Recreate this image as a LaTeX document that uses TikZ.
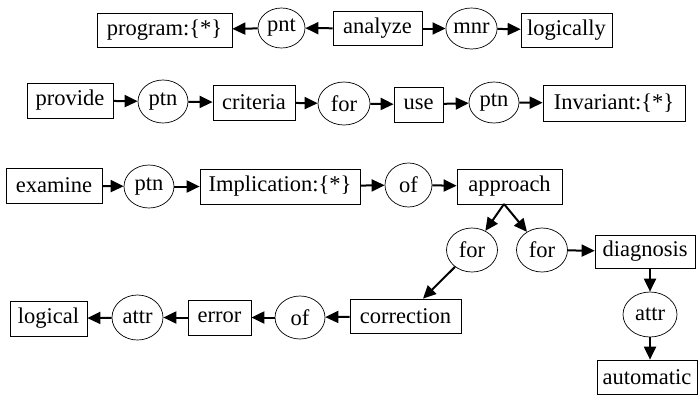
\documentclass[tikz,border=0pt]{standalone}
\usepackage{fontspec}
\setmainfont{Liberation Serif}
\usetikzlibrary{shapes.geometric,arrows.meta}
\begin{document}
\begin{tikzpicture}[x=1pt,y=-1pt,
  lbl/.style={inner sep=0pt,line width=0.7pt,font=\fontsize{22.5}{22.5}\selectfont},
  box/.style={lbl,draw,rectangle},
  ell/.style={lbl,draw,ellipse},
  arr/.style={line width=2pt,-{Triangle[length=13pt,width=12pt]}}]
\useasboundingbox (0,0) rectangle (700,394);
% row 1
\node[box,minimum width=135pt,minimum height=34pt] (prog) at (164.5,30) {program:\{*\}};
\node[ell,minimum width=47pt,minimum height=40pt] (pnt) at (281.5,28) {pnt};
\node[box,minimum width=89pt,minimum height=34pt] (analyze) at (377.5,28.5) {analyze};
\node[ell,minimum width=51pt,minimum height=41pt] (mnr) at (471.5,28.5) {mnr};
\node[box,minimum width=91pt,minimum height=34pt] (logically) at (566.5,30) {logically};
\draw[arr] (pnt) -- (prog);
\draw[arr] (analyze) -- (pnt);
\draw[arr] (analyze) -- (mnr);
\draw[arr] (mnr) -- (logically);
% row 2
\node[box,minimum width=86pt,minimum height=35pt] (provide) at (70,100.5) {provide};
\node[ell,minimum width=50pt,minimum height=43pt] (ptnA) at (163,101.5) {ptn};
\node[box,minimum width=82pt,minimum height=35pt] (criteria) at (254,102.5) {criteria};
\node[ell,minimum width=52pt,minimum height=43pt] (forA) at (344,103.5) {for};
\node[box,minimum width=49pt,minimum height=35pt] (use) at (418.5,104.5) {use};
\node[ell,minimum width=50pt,minimum height=41pt] (ptnB) at (494,102.5) {ptn};
\node[box,minimum width=142pt,minimum height=36pt] (invariant) at (614,103) {Invariant:\{*\}};
\draw[arr] (provide) -- (ptnA);
\draw[arr] (ptnA) -- (criteria);
\draw[arr] (criteria) -- (forA);
\draw[arr] (forA) -- (use);
\draw[arr] (use) -- (ptnB);
\draw[arr] (ptnB) -- (invariant);
% row 3
\node[box,minimum width=96pt,minimum height=35pt] (examine) at (54,185.5) {examine};
\node[ell,minimum width=50pt,minimum height=43pt] (ptnC) at (149,186.5) {ptn};
\node[box,minimum width=160pt,minimum height=35pt] (implication) at (280,186.5) {Implication:\{*\}};
\node[ell,minimum width=47pt,minimum height=44pt] (ofA) at (408.5,185) {of};
\node[box,minimum width=105pt,minimum height=35pt] (approach) at (509.5,186.5) {approach};
\draw[arr] (examine) -- (ptnC);
\draw[arr] (ptnC) -- (implication);
\draw[arr] (implication) -- (ofA);
\draw[arr] (ofA) -- (approach);
% branches
\node[ell,minimum width=51pt,minimum height=44pt] (forL) at (472,250) {for};
\node[ell,minimum width=51pt,minimum height=44pt] (forR) at (542,250) {for};
\node[box,minimum width=100pt,minimum height=33pt] (diagnosis) at (645,251.5) {diagnosis};
\node[ell,minimum width=54pt,minimum height=45pt] (attrR) at (650,314.5) {attr};
\node[box,minimum width=100pt,minimum height=34pt] (automatic) at (647,377) {automatic};
\coordinate (apx) at (504,204);
\draw[arr] (apx) -- (forL);
\draw[arr] (apx) -- (forR);
\draw[arr] (forR) -- (diagnosis);
\draw[arr] (diagnosis.south -| attrR) -- (attrR);
\draw[arr] (attrR) -- (automatic.north -| attrR);
% bottom row
\node[box,minimum width=111pt,minimum height=34pt] (correction) at (405.5,316) {correction};
\node[ell,minimum width=50pt,minimum height=43pt] (ofB) at (300,317.5) {of};
\node[box,minimum width=63pt,minimum height=35pt] (error) at (219.5,317.5) {error};
\node[ell,minimum width=51pt,minimum height=45pt] (attrL) at (137.5,317.5) {attr};
\node[box,minimum width=77pt,minimum height=35pt] (logical) at (48.5,318.5) {logical};
\draw[arr] (forL) -- (correction);
\draw[arr] (correction) -- (ofB);
\draw[arr] (ofB) -- (error);
\draw[arr] (error) -- (attrL);
\draw[arr] (attrL) -- (logical);
\end{tikzpicture}
\end{document}
